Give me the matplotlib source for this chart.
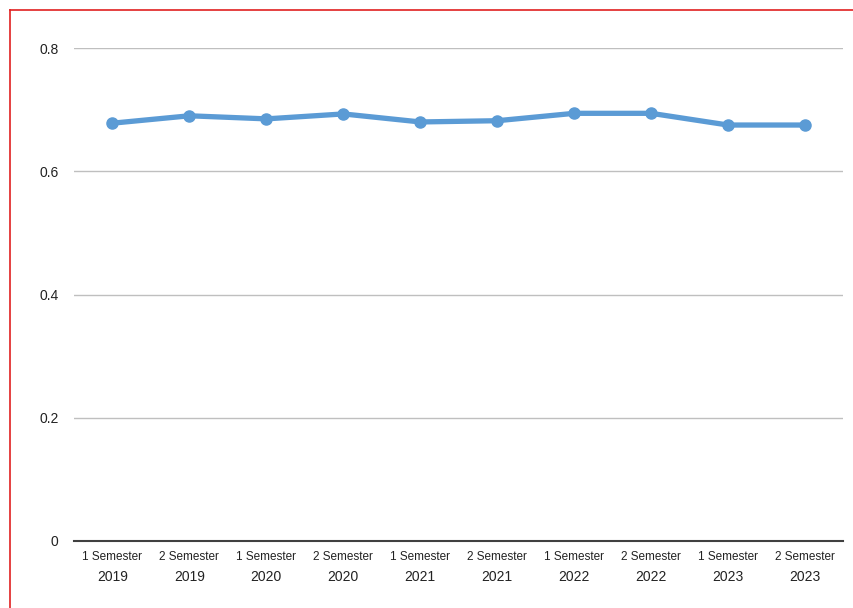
import matplotlib
matplotlib.use('Agg')
import matplotlib.pyplot as plt
from matplotlib.lines import Line2D
import matplotlib.transforms as mtransforms

# data
semesters = ['1 Semester', '2 Semester', '1 Semester', '2 Semester', '1 Semester',
             '2 Semester', '1 Semester', '2 Semester', '1 Semester', '2 Semester']
years = ['2019', '2019', '2020', '2020', '2021', '2021', '2022', '2022', '2023', '2023']
values = [0.678, 0.690, 0.685, 0.693, 0.680, 0.682, 0.694, 0.694, 0.675, 0.675]
y_ticks = [0, 0.2, 0.4, 0.6, 0.8]
y_tick_labels = ['0', '0.2', '0.4', '0.6', '0.8']

plt.rcParams['font.family'] = ['Liberation Sans', 'DejaVu Sans']

fig = plt.figure(figsize=(8.54, 6.08), dpi=100)
ax = fig.add_axes([74/854, 67/608, (843.5-74)/854, (541-48)/608])

x = list(range(len(values)))
ax.plot(x, values, color='#5B9BD5', lw=3.8, marker='o', markersize=8,
        solid_capstyle='round', zorder=3)

ax.set_xlim(-0.5, len(values) - 0.5)
ax.set_ylim(0, 0.8)
ax.set_yticks(y_ticks)
ax.set_yticklabels(y_tick_labels, fontsize=10, color='#222222')
ax.yaxis.grid(True, color='#BFBFBF', lw=1)
ax.set_axisbelow(True)

ax.set_xticks(x)
ax.set_xticklabels(semesters, fontsize=8.5, color='#222222')
ax.tick_params(axis='both', length=0)
ax.tick_params(axis='x', pad=7)
ax.tick_params(axis='y', pad=11)

# year line under each semester label
trans = mtransforms.blended_transform_factory(ax.transData, ax.transAxes)
for xi, yr in zip(x, years):
    ax.text(xi, -0.073, yr, transform=trans, ha='center', va='center',
            fontsize=10, color='#222222')

for side in ['top', 'right', 'left']:
    ax.spines[side].set_visible(False)
ax.spines['bottom'].set_color('#404040')
ax.spines['bottom'].set_linewidth(1.5)

# red frame on left and top
fig.add_artist(Line2D([10/854, 10/854], [0, 1 - 10/608], transform=fig.transFigure,
                      color='#E02020', lw=1.2))
fig.add_artist(Line2D([10/854, 1], [1 - 10/608, 1 - 10/608], transform=fig.transFigure,
                      color='#E02020', lw=1.2))

plt.savefig('out.png', dpi=100)
